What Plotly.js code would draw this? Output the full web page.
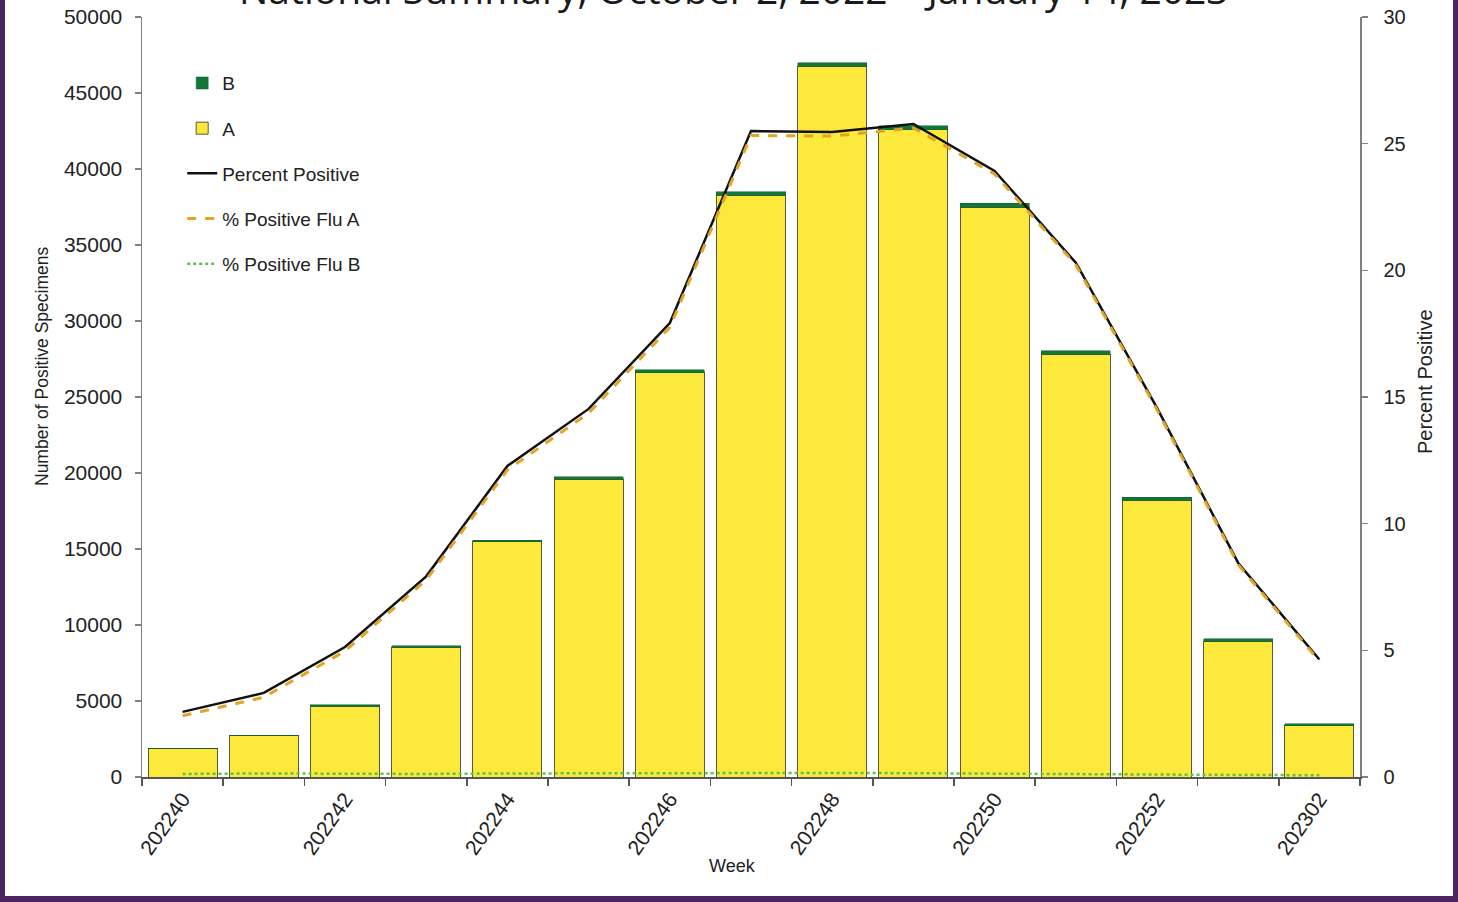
<!DOCTYPE html>
<html>
<head>
<meta charset="utf-8">
<script src="https://cdn.plot.ly/plotly-3.0.1.min.js"></script>
<style>
html,body{margin:0;padding:0;background:#fff;}
#wrap{position:relative;width:1458px;height:902px;overflow:hidden;}
#chart{width:1458px;height:902px;}
#frame{position:absolute;left:0;top:0;width:1458px;height:902px;box-sizing:border-box;
  border-left:5px solid #4b2461;border-right:5px solid #4b2461;border-bottom:6px solid #4b2461;pointer-events:none;}
</style>
</head>
<body>
<div id="wrap"><div id="chart"></div><div id="frame"></div></div>
<script>
// Weeks (categories)
const weeks = ["202240","202241","202242","202243","202244","202245","202246","202247","202248","202249","202250","202251","202252","202301","202302"];
// Number of positive specimens
const fluA = [1860, 2710, 4670, 8530, 15470, 19590, 26600, 38270, 46750, 42570, 37500, 27800, 18220, 8930, 3380];
const fluB = [40, 50, 70, 90, 120, 150, 180, 220, 250, 260, 260, 230, 200, 150, 110];
// Percent positive
const pctPositive = [2.57, 3.32, 5.13, 7.92, 12.28, 14.53, 17.92, 25.50, 25.46, 25.78, 23.92, 20.30, 14.57, 8.45, 4.64];
const pctFluA = [2.42, 3.15, 4.97, 7.78, 12.12, 14.36, 17.75, 25.32, 25.30, 25.62, 23.80, 20.22, 14.50, 8.38, 4.57];
const pctFluB = [0.12, 0.14, 0.13, 0.12, 0.14, 0.15, 0.16, 0.17, 0.16, 0.15, 0.13, 0.10, 0.08, 0.08, 0.07];

const idx = weeks.map((w, i) => i);
const tickText = weeks.map((w, i) => (i % 2 === 0 ? w : ""));

const FONT = "Liberation Sans, Arial, sans-serif";
const PL = 142, PW = 1218, PT = 17, PH = 760;
const px = v => (v - PL) / PW;
const py = v => 1 - (v - PT) / PH;

const traces = [
  {type: "bar", name: "A", x: idx, y: fluA, legendrank: 2, legendgroup: "a",
   marker: {color: "#fde93c", line: {color: "#5a5a3a", width: 1}}, width: 0.85},
  {type: "bar", name: "B", x: idx, y: fluB, legendrank: 1, legendgroup: "b",
   marker: {color: "#0f7a35", line: {color: "#0f5a2a", width: 0.5}}, width: 0.85},
  {type: "scatter", mode: "lines", name: "Percent Positive", x: idx, y: pctPositive, yaxis: "y2",
   legendrank: 3, legendgroup: "p", line: {color: "#111111", width: 2.5}},
  {type: "scatter", mode: "lines", name: "% Positive Flu A", x: idx, y: pctFluA, yaxis: "y2",
   legendrank: 4, legendgroup: "pa", line: {color: "#e0a526", width: 3, dash: "dash"}},
  {type: "scatter", mode: "lines", name: "% Positive Flu B", x: idx, y: pctFluB, yaxis: "y2",
   legendrank: 5, legendgroup: "pb", line: {color: "#5cc445", width: 2.5, dash: "dot"}}
];

const layout = {
  width: 1458, height: 902,
  margin: {l: PL, r: 1458 - PL - PW, t: PT, b: 902 - PT - PH},
  paper_bgcolor: "#ffffff", plot_bgcolor: "#ffffff",
  barmode: "stack", bargap: 0.15,
  showlegend: true,
  font: {family: FONT, color: "#222222", size: 20},
  legend: {x: 0.033, y: 0.938, xanchor: "left", yanchor: "top", bgcolor: "rgba(0,0,0,0)",
           font: {family: FONT, size: 19, color: "#222"}, traceorder: "grouped", tracegroupgap: 17.5,
           itemwidth: 30},
  xaxis: {
    range: [-0.5, 14.5], tickmode: "array", tickvals: idx, ticktext: tickText,
    tickangle: -55, ticks: "", showgrid: false, zeroline: false,
    showline: true, linecolor: "#555555", linewidth: 1.5,
    tickfont: {family: FONT, size: 21, color: "#222"},
    minor: {tickmode: "linear", tick0: -0.5, dtick: 1, ticks: "outside", ticklen: 7, tickcolor: "#555555", tickwidth: 1.5, showgrid: false}
  },
  yaxis: {
    range: [0, 50000], dtick: 5000, tick0: 0, tickformat: "d", ticks: "outside", ticklen: 6, tickcolor: "#808080", tickwidth: 1.5,
    ticklabelstandoff: 8,
    showgrid: false, zeroline: false, showline: true, linecolor: "#808080", linewidth: 1.5,
    tickfont: {family: FONT, size: 21, color: "#222"}
  },
  yaxis2: {
    range: [0, 30], dtick: 5, tick0: 0, overlaying: "y", side: "right",
    ticks: "outside", ticklen: 6, tickcolor: "#808080", tickwidth: 1.5, ticklabelstandoff: 12,
    showgrid: false, zeroline: false, showline: true, linecolor: "#808080", linewidth: 1.5,
    tickfont: {family: FONT, size: 20, color: "#222"}
  },
  annotations: [
    {text: "National Summary, October 2, 2022 – January 14, 2023",
     xref: "paper", yref: "paper", x: px(734), y: 1.038, xanchor: "center", yanchor: "middle",
     showarrow: false, font: {family: "Open Sans, sans-serif", size: 39, color: "#1a1a1a"}},
    {text: "Number of Positive Specimens", xref: "paper", yref: "paper", x: px(42), y: py(366),
     xanchor: "center", yanchor: "middle", textangle: -90, showarrow: false,
     font: {family: FONT, size: 17.5, color: "#222"}},
    {text: "Percent Positive", xref: "paper", yref: "paper", x: px(1425), y: py(382),
     xanchor: "center", yanchor: "middle", textangle: -90, showarrow: false,
     font: {family: FONT, size: 20, color: "#222"}},
    {text: "Week", xref: "paper", yref: "paper", x: px(732), y: py(866),
     xanchor: "center", yanchor: "middle", showarrow: false,
     font: {family: FONT, size: 18, color: "#222"}}
  ]
};

Plotly.newPlot("chart", traces, layout, {displayModeBar: false, staticPlot: true});
</script>
</body>
</html>
